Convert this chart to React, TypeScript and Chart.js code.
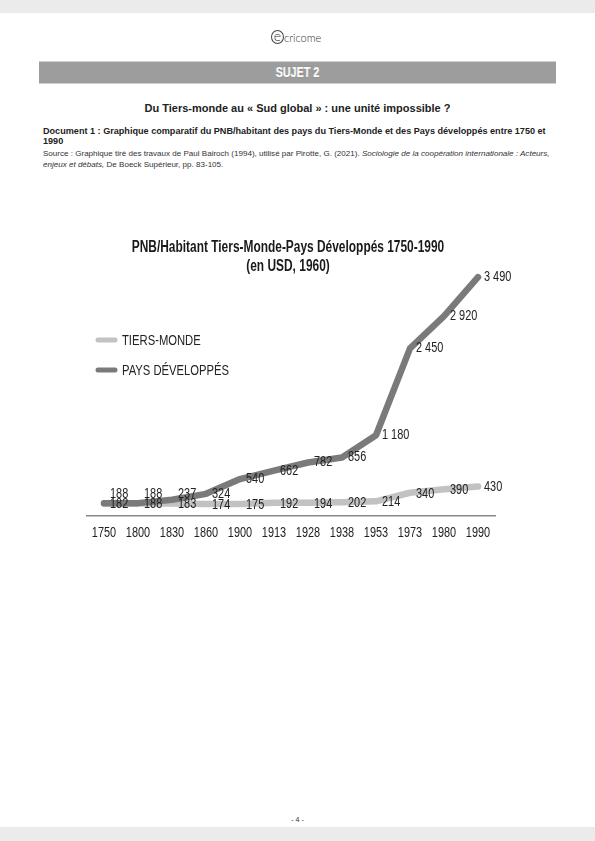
import React, { useEffect, useRef } from "react";
import { Chart, registerables } from "chart.js";

Chart.register(...registerables);

// ---- data ----
const years = ["1750", "1800", "1830", "1860", "1900", "1913", "1928", "1938", "1953", "1973", "1980", "1990"];
const tiersMonde = [182, 188, 183, 174, 175, 192, 194, 202, 214, 340, 390, 430];
const paysDeveloppes = [188, 188, 237, 324, 540, 662, 782, 856, 1180, 2450, 2920, 3490];
const seriesNames = ["TIERS-MONDE", "PAYS DÉVELOPPÉS"];
const chartTitle = ["PNB/Habitant Tiers-Monde-Pays Développés 1750-1990", "(en USD, 1960)"];

const SANS = "'Liberation Sans', Arial, Helvetica, sans-serif";
const TM_COLOR = "#c2c2c2";
const DEV_COLOR = "#7a7a7a";
const TEXT_COLOR = "#222222";

const fmt = (v: number) =>
  v >= 1000 ? `${Math.floor(v / 1000)} ${String(v % 1000).padStart(3, "0")}` : String(v);

// draw text horizontally compressed to imitate a narrow typeface
function narrowText(
  ctx: CanvasRenderingContext2D,
  text: string,
  x: number,
  y: number,
  font: string,
  align: CanvasTextAlign,
  color: string,
  sx: number
) {
  ctx.save();
  ctx.font = font;
  ctx.fillStyle = color;
  ctx.textAlign = align;
  ctx.textBaseline = "middle";
  ctx.translate(x, y);
  ctx.scale(sx, 1);
  ctx.fillText(text, 0, 0);
  ctx.restore();
}

const overlayPlugin = {
  id: "overlay",
  afterDatasetsDraw(chart: any) {
    const ctx = chart.ctx as CanvasRenderingContext2D;
    const tmMeta = chart.getDatasetMeta(0);
    const devMeta = chart.getDatasetMeta(1);
    const labelFont = `14px ${SANS}`;
    // data labels
    tmMeta.data.forEach((pt: any, i: number) => {
      const tmY = pt.y + 1;
      narrowText(ctx, fmt(tiersMonde[i]), pt.x + 6, tmY, labelFont, "left", TEXT_COLOR, 0.78);
      const dp = devMeta.data[i];
      const devY = Math.min(dp.y, tmY - 10);
      narrowText(ctx, fmt(paysDeveloppes[i]), dp.x + 6, devY, labelFont, "left", TEXT_COLOR, 0.78);
    });
    // x tick labels
    const xs = chart.scales.x;
    const axisY = chart.chartArea.bottom;
    xs.ticks.forEach((t: any, i: number) => {
      narrowText(ctx, String(xs.getLabelForValue(t.value)), xs.getPixelForTick(i), axisY + 17, `14px ${SANS}`, "center", TEXT_COLOR, 0.78);
    });
    // title
    const titleFont = `bold 16px ${SANS}`;
    narrowText(ctx, chartTitle[0], 288, 28, titleFont, "center", "#1a1a1a", 0.745);
    narrowText(ctx, chartTitle[1], 288, 47, titleFont, "center", "#1a1a1a", 0.745);
    // legend
    const colors = [TM_COLOR, DEV_COLOR];
    seriesNames.forEach((name, i) => {
      const y = 120 + i * 30;
      ctx.save();
      ctx.strokeStyle = colors[i];
      ctx.lineWidth = 5;
      ctx.lineCap = "round";
      ctx.beginPath();
      ctx.moveTo(98, y);
      ctx.lineTo(115, y);
      ctx.stroke();
      ctx.restore();
      narrowText(ctx, name, 122, y + 1, `15px ${SANS}`, "left", TEXT_COLOR, 0.75);
    });
  },
};

function PnbChart() {
  const ref = useRef<HTMLCanvasElement | null>(null);
  useEffect(() => {
    if (!ref.current) return;
    const chart = new Chart(ref.current, {
      type: "line",
      data: {
        labels: years,
        datasets: [
          {
            label: seriesNames[0],
            data: tiersMonde,
            borderColor: TM_COLOR,
            borderWidth: 6.5,
            borderCapStyle: "round",
            borderJoinStyle: "round",
            pointRadius: 0,
            tension: 0,
            order: 1,
          },
          {
            label: seriesNames[1],
            data: paysDeveloppes,
            borderColor: DEV_COLOR,
            borderWidth: 6.5,
            borderCapStyle: "round",
            borderJoinStyle: "round",
            pointRadius: 0,
            tension: 0,
            order: 0,
          },
        ],
      },
      options: {
        responsive: false,
        animation: false,
        devicePixelRatio: 1,
        layout: { padding: { left: 87, right: 100, top: 36, bottom: 0 } },
        plugins: { legend: { display: false }, title: { display: false }, tooltip: { enabled: false } },
        scales: {
          x: {
            type: "category",
            offset: true,
            grid: { display: false, drawTicks: false },
            border: { display: true, color: "#8a8a8a", width: 1.5 },
            ticks: { display: false, autoSkip: false, maxRotation: 0 },
            afterFit: (s: any) => {
              s.height = 44;
            },
          },
          y: { display: false, min: 0, max: 3800 },
        },
      },
      plugins: [overlayPlugin],
    } as any);
    return () => chart.destroy();
  }, []);
  return <canvas ref={ref} width={595} height={340} style={{ display: "block" }} />;
}

export default function App() {
  const abs = (s: React.CSSProperties): React.CSSProperties => ({ position: "absolute", ...s });
  return (
    <div style={abs({ left: 0, top: 0, width: 595, height: 841, background: "#fff", overflow: "hidden", fontFamily: SANS, color: "#222" })}>
      <div style={abs({ left: 0, top: 0, width: 595, height: 13, background: "#ebebeb" })} />
      {/* logo */}
      <div style={abs({ left: 271, top: 30, width: 13, height: 14, border: "1px solid #444", borderRadius: "50%", boxSizing: "border-box", fontSize: 14, lineHeight: "10px", textAlign: "center", color: "#333", fontWeight: 300, fontFamily: "Lato, " + SANS })}>e</div>
      <div style={abs({ left: 284, top: 31, fontSize: 11, lineHeight: "13px", color: "#333", fontFamily: "Lato, " + SANS, fontWeight: 300 })}>cricome</div>
      {/* SUJET bar */}
      <div style={abs({ left: 39, top: 61, width: 517, height: 23, background: "#9d9d9d", borderTop: "1px solid #cfcfcf", borderBottom: "1px solid #cfcfcf", boxSizing: "border-box", textAlign: "center", color: "#fff", fontFamily: SANS, fontWeight: 700, fontSize: 14.5, lineHeight: "21px", textShadow: "0 0 1px #444, 0.4px 0 0 #fff, -0.4px 0 0 #fff" })}>
        <span style={{ display: "inline-block", transform: "scaleX(0.74)" }}>SUJET 2</span>
      </div>
      <div style={abs({ left: 0, top: 101, width: 595, textAlign: "center", fontSize: 11, fontWeight: 700, lineHeight: "14px" })}>
        Du Tiers-monde au « Sud global » : une unité impossible ?
      </div>
      <div style={abs({ left: 43, top: 125.5, width: 515, fontSize: 9.1, fontWeight: 700, lineHeight: "10px" })}>
        Document 1 : Graphique comparatif du PNB/habitant des pays du Tiers-Monde et des Pays développés entre 1750 et 1990
      </div>
      <div style={abs({ left: 43, top: 147.5, width: 515, fontSize: 8.05, lineHeight: "11px", color: "#333" })}>
        Source : Graphique tiré des travaux de Paul Bairoch (1994), utilisé par Pirotte, G. (2021).{" "}
        <i>Sociologie de la coopération internationale : Acteurs, enjeux et débats,</i> De Boeck Supérieur, pp. 83-105.
      </div>
      <div style={abs({ left: 0, top: 220, width: 595, height: 340 })}>
        <PnbChart />
      </div>
      <div style={abs({ left: 0, top: 815, width: 595, textAlign: "center", fontSize: 7, lineHeight: "10px", color: "#333" })}>- 4 -</div>
      <div style={abs({ left: 0, top: 827, width: 595, height: 14, background: "#ebebeb" })} />
    </div>
  );
}
